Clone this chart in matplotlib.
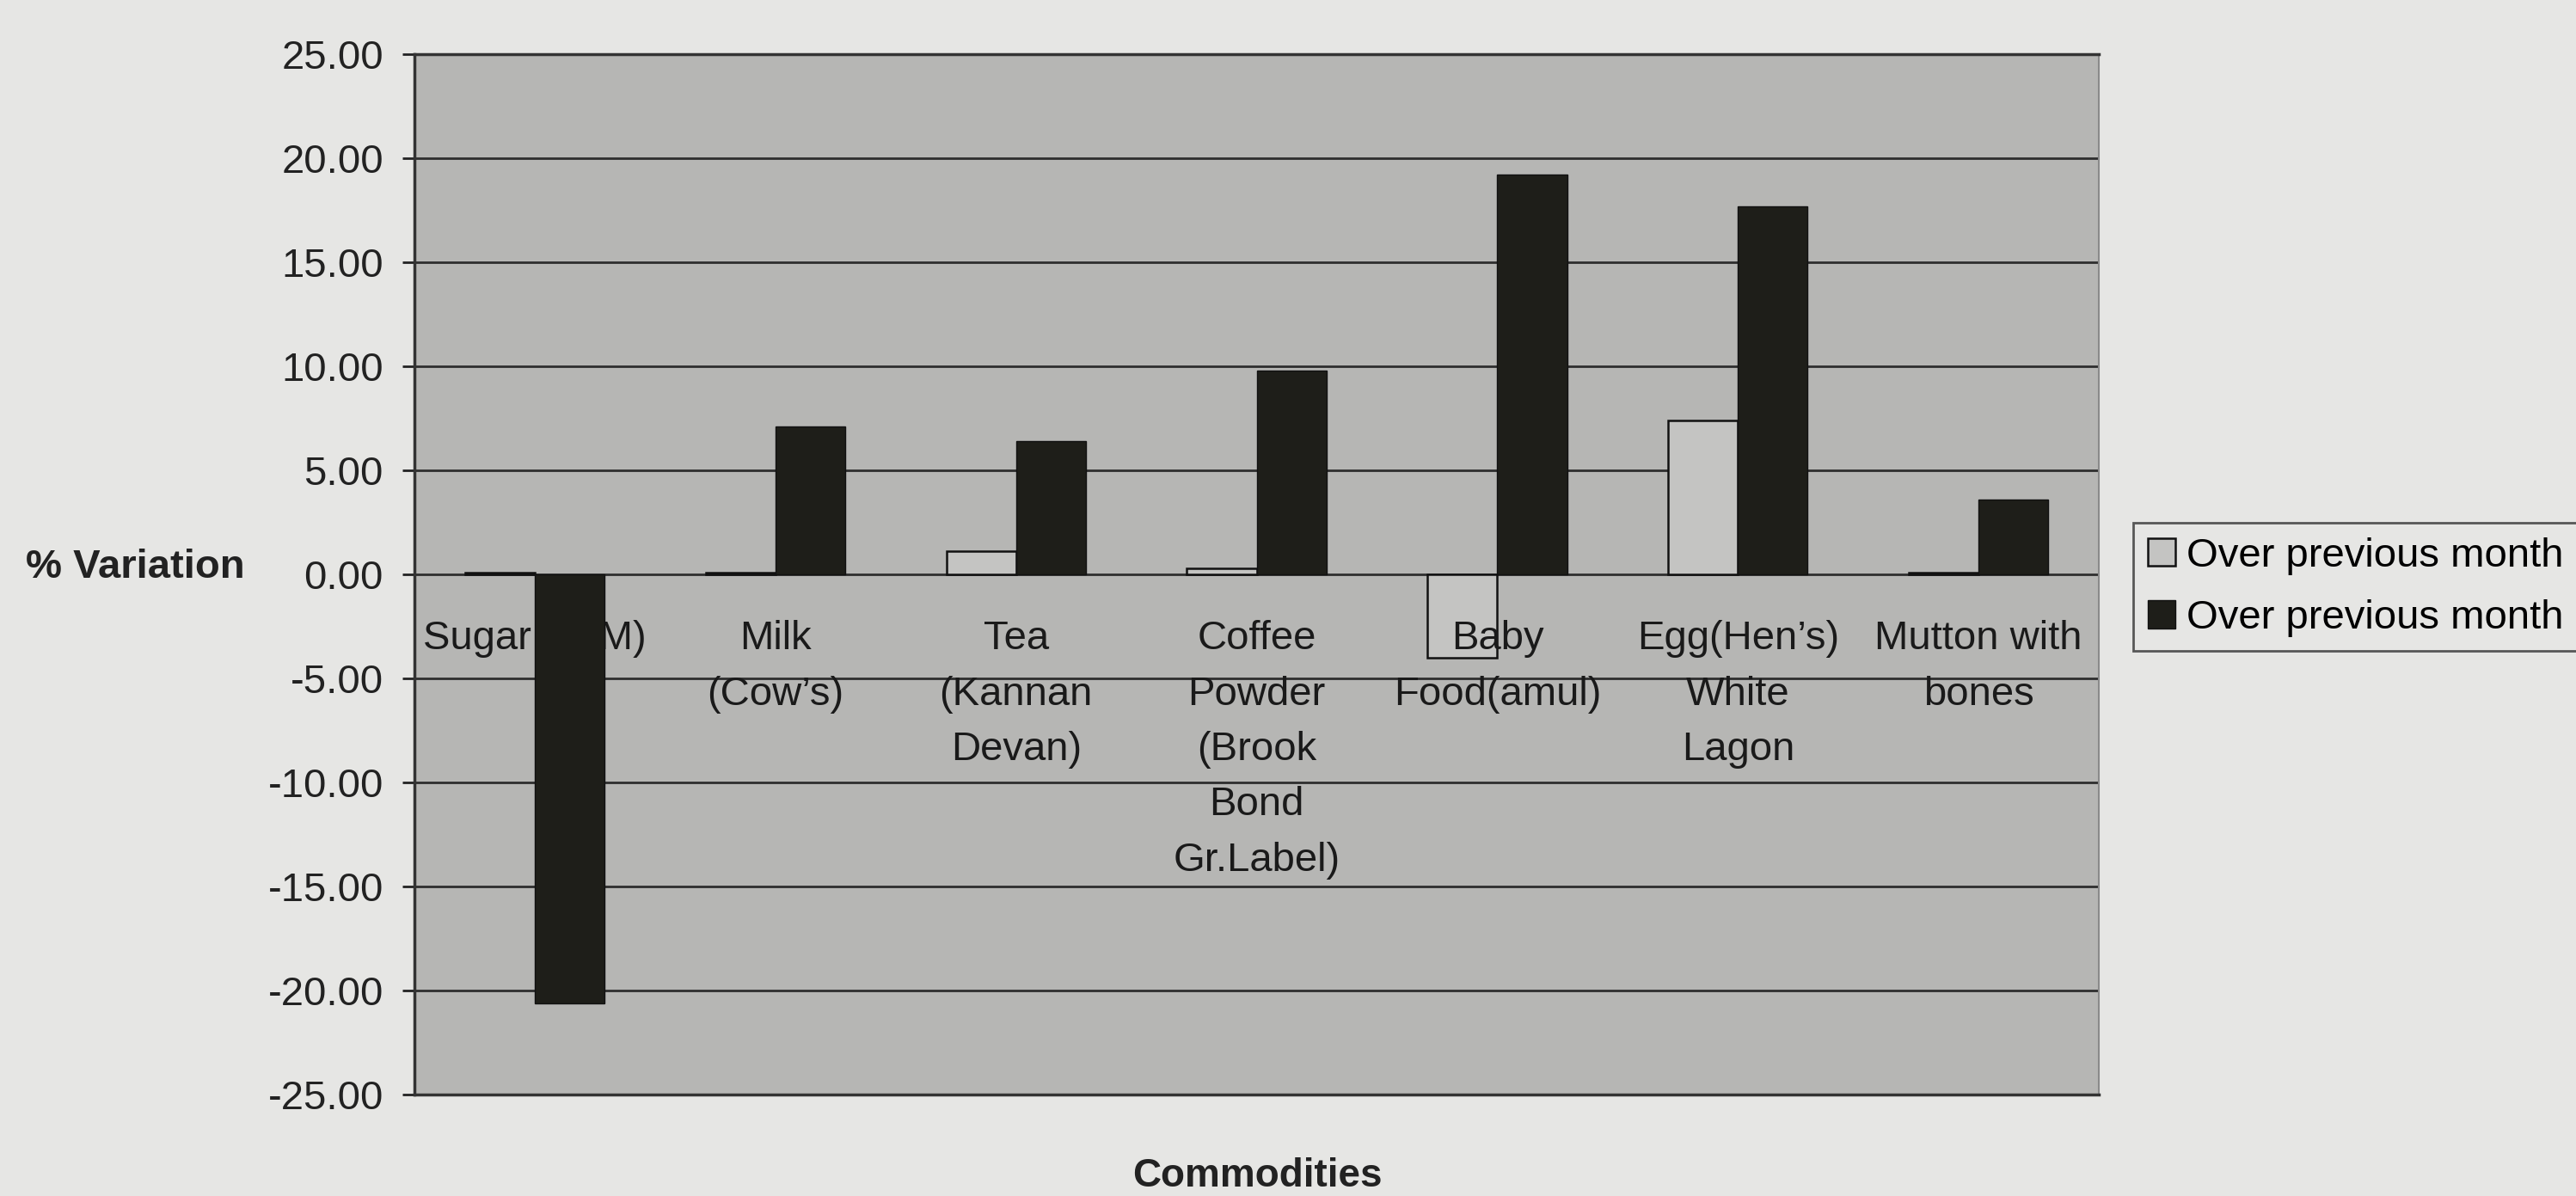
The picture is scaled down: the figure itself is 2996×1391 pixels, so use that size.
import numpy as np
import matplotlib
matplotlib.use('Agg')
import matplotlib.pyplot as plt
import matplotlib.ticker as ticker

plt.rcParams['font.family'] = ['Liberation Sans', 'DejaVu Sans']
plt.rcParams['axes.unicode_minus'] = False

# data
commodities = ['Sugar (O.M)', 'Milk\n(Cow\u2019s)', 'Tea\n(Kannan\nDevan)',
               'Coffee\nPowder\n(Brook\nBond\nGr.Label)', 'Baby\nFood(amul)',
               'Egg(Hen\u2019s)\nWhite\nLagon', 'Mutton with\nbones']
light_vals = [0.1, 0.1, 1.1, 0.3, -4.0, 7.4, 0.1]
dark_vals = [-20.6, 7.1, 6.4, 9.8, 19.2, 17.7, 3.6]
series_names = ['Over previous month', 'Over previous month']
yticks = [-25, -20, -15, -10, -5, 0, 5, 10, 15, 20, 25]

fig_bg = '#e6e6e4'
plot_bg = '#b6b6b4'

fig = plt.figure(figsize=(29.96, 13.91), dpi=100, facecolor=fig_bg)
ax = fig.add_axes([0.1609, 0.0848, 0.6539, 0.870])
ax.set_facecolor(plot_bg)

x = np.arange(len(commodities))
w = 0.29

ax.bar(x - w/2, light_vals, w, color='#c4c4c2', edgecolor='#111111', lw=1.8,
       label=series_names[0], zorder=3)
for xi, lab in zip(x, commodities):
    ax.text(xi, -2.2, lab, ha='center', va='top', fontsize=34,
            color='#1a1a1a', linespacing=1.6, zorder=3.5)
ax.bar(x + w/2, dark_vals, w, color='#1e1e19', edgecolor='#111111', lw=1,
       label=series_names[1], zorder=4)

ax.set_xlim(-0.5, len(commodities) - 0.5)
ax.set_ylim(-25, 25)
ax.set_yticks(yticks)
ax.yaxis.set_major_formatter(ticker.FormatStrFormatter('%.2f'))
ax.set_xticks([])
ax.yaxis.grid(True, color='#2e2e2e', lw=2, zorder=1)
ax.set_axisbelow(True)
ax.tick_params(axis='y', labelsize=34, length=10, width=2, pad=16,
               colors='#222222')

for s in ['left', 'top', 'bottom']:
    ax.spines[s].set_color('#333333')
    ax.spines[s].set_linewidth(2.5)
ax.spines['right'].set_color('#8a8a8a')
ax.spines['right'].set_linewidth(1.5)

fig.text(0.0100, 0.5255, '% Variation', fontsize=34, fontweight='bold',
         ha='left', va='center', color='#222222')
fig.text(0.488, 0.0165, 'Commodities', fontsize=33, fontweight='bold',
         ha='center', va='center', color='#222222')

leg = ax.legend(loc='upper left', bbox_to_anchor=(0.8281, 0.5629),
                bbox_transform=fig.transFigure, fontsize=34, frameon=True,
                fancybox=False, handlelength=0.68, handleheight=0.68,
                handletextpad=0.28, borderpad=0.35, labelspacing=0.6,
                borderaxespad=0)
leg.get_frame().set_edgecolor('#333333')
leg.get_frame().set_facecolor(fig_bg)
leg.get_frame().set_linewidth(2)

plt.savefig('out.png', dpi=100, facecolor=fig_bg)
